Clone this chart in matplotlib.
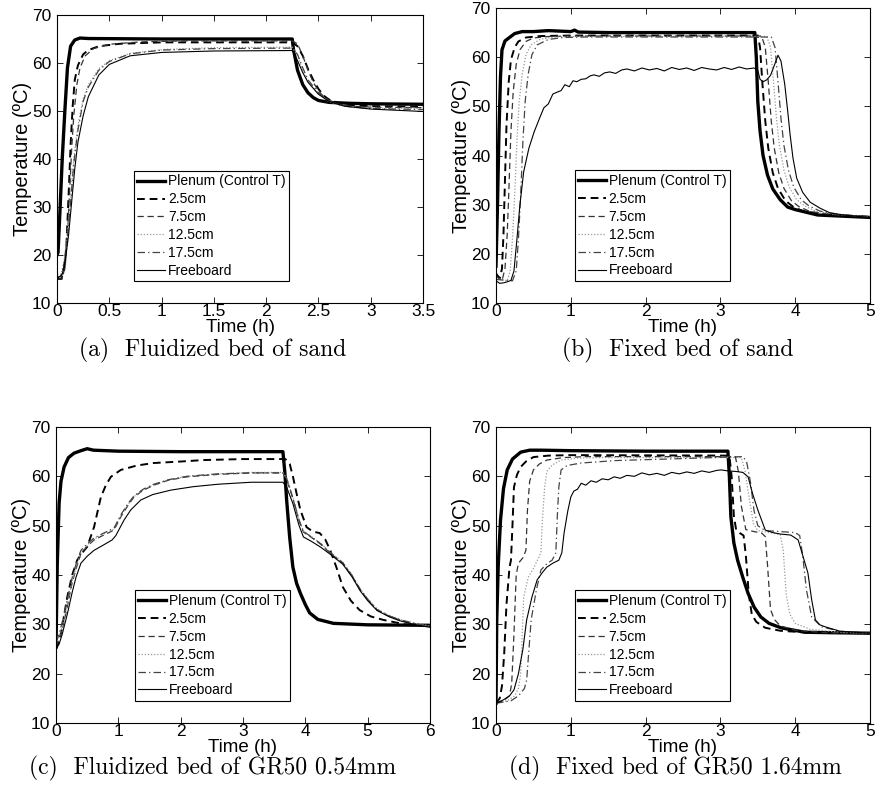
import numpy as np
import matplotlib
matplotlib.use('Agg')
import matplotlib.pyplot as plt
from matplotlib.ticker import FormatStrFormatter

plt.rcParams['font.family'] = ['Liberation Sans', 'DejaVu Sans']

labels = ['Plenum (Control T)', '2.5cm', '7.5cm', '12.5cm', '17.5cm', 'Freeboard']

# ---------------- (a) Fluidized bed of sand ----------------
a_plenum_t = [0.0, 0.01, 0.03, 0.05, 0.075, 0.1, 0.13, 0.17, 0.22, 0.3, 1.0, 2.0, 2.25,
              2.26, 2.3, 2.35, 2.4, 2.45, 2.5, 2.6, 2.8, 3.0, 3.5]
a_plenum_T = [20.0, 20.5, 30.0, 40.0, 50.0, 59.0, 63.5, 64.8, 65.2, 65.1, 65.0, 65.0, 65.0,
              63.0, 58.5, 55.5, 53.8, 52.8, 52.2, 51.8, 51.6, 51.5, 51.4]
a_25_t = [0.0, 0.04, 0.07, 0.09, 0.11, 0.13, 0.15, 0.17, 0.2, 0.25, 0.3, 0.4, 0.6, 1.0, 2.25,
          2.3, 2.35, 2.4, 2.45, 2.5, 2.55, 2.6, 2.7, 2.8, 3.0, 3.5]
a_25_T = [15.0, 15.0, 17.0, 22.0, 32.0, 43.0, 51.0, 56.5, 59.5, 61.8, 62.7, 63.5, 64.0, 64.3, 64.3,
          63.5, 61.5, 58.8, 56.5, 54.6, 53.2, 52.4, 51.6, 51.2, 51.0, 50.9]
a_75_t = [0.0, 0.05, 0.08, 0.1, 0.12, 0.14, 0.16, 0.19, 0.22, 0.27, 0.35, 0.5, 0.8, 1.2, 2.25,
          2.3, 2.35, 2.4, 2.45, 2.5, 2.55, 2.6, 2.7, 2.8, 3.0, 3.5]
a_75_T = [15.0, 15.0, 18.0, 24.0, 33.0, 42.0, 49.0, 55.5, 59.0, 61.5, 63.0, 63.9, 64.4, 64.6, 64.6,
          64.0, 61.5, 58.5, 56.0, 54.2, 53.0, 52.2, 51.4, 51.0, 50.8, 50.7]
a_125_t = [0.0, 0.04, 0.07, 0.1, 0.13, 0.16, 0.2, 0.25, 0.3, 0.4, 0.5, 0.7, 1.0, 1.5, 2.25,
           2.3, 2.35, 2.4, 2.5, 2.6, 2.7, 2.8, 3.0, 3.5]
a_125_T = [16.0, 16.0, 19.0, 25.0, 32.0, 40.0, 47.0, 52.5, 55.5, 58.8, 60.5, 62.0, 62.8, 63.2, 63.3,
           61.5, 58.5, 56.0, 53.5, 52.0, 51.2, 50.8, 50.6, 50.5]
a_175_t = [0.0, 0.04, 0.07, 0.1, 0.13, 0.16, 0.2, 0.25, 0.3, 0.4, 0.5, 0.7, 1.0, 1.5, 2.25,
           2.3, 2.35, 2.4, 2.5, 2.6, 2.7, 2.8, 3.0, 3.5]
a_175_T = [15.5, 15.5, 18.5, 24.0, 31.0, 39.0, 46.0, 52.0, 55.0, 58.5, 60.3, 61.9, 62.7, 63.0, 63.1,
           61.8, 59.0, 56.5, 53.8, 52.2, 51.3, 50.9, 50.5, 50.3]
a_fb_t = [0.0, 0.05, 0.08, 0.11, 0.14, 0.17, 0.2, 0.25, 0.3, 0.4, 0.5, 0.7, 1.0, 1.5, 2.25,
          2.3, 2.35, 2.4, 2.5, 2.6, 2.75, 3.0, 3.5]
a_fb_T = [15.0, 16.0, 19.0, 24.0, 31.0, 38.0, 43.5, 49.0, 53.0, 57.5, 59.7, 61.5, 62.2, 62.5, 62.6,
          60.5, 58.0, 56.0, 53.5, 52.0, 51.0, 50.4, 49.9]

# ---------------- (b) Fixed bed of sand ----------------
b_plenum_t = [0.0, 0.02, 0.04, 0.06, 0.08, 0.12, 0.18, 0.25, 0.35, 0.5, 0.7, 1.0, 1.05, 1.1, 1.5,
              2.0, 2.5, 3.0, 3.46, 3.48, 3.5, 3.53, 3.57, 3.63, 3.7, 3.8, 3.9, 4.0, 4.3, 5.0]
b_plenum_T = [17.5, 30.0, 45.0, 56.0, 61.5, 63.3, 64.0, 64.8, 65.2, 65.2, 65.4, 65.2, 65.5, 65.1, 65.0,
              65.0, 65.0, 65.0, 65.0, 60.0, 51.0, 45.0, 40.0, 36.0, 33.2, 31.0, 29.5, 29.0, 27.9, 27.4]
b_25_t = [0.0, 0.05, 0.08, 0.1, 0.12, 0.14, 0.17, 0.2, 0.25, 0.3, 0.4, 0.6, 1.0, 3.5,
          3.53, 3.56, 3.6, 3.64, 3.7, 3.77, 3.87, 3.97, 4.1, 4.4, 5.0]
b_25_T = [16.0, 15.0, 17.0, 24.0, 35.0, 46.0, 55.0, 59.5, 62.0, 63.2, 64.0, 64.3, 64.4, 64.4,
          62.0, 55.0, 47.0, 41.5, 36.5, 33.3, 30.8, 29.6, 28.7, 28.0, 27.5]
b_75_t = [0.0, 0.08, 0.12, 0.15, 0.17, 0.2, 0.23, 0.27, 0.32, 0.4, 0.5, 0.7, 1.0, 3.55,
          3.6, 3.64, 3.68, 3.72, 3.78, 3.85, 3.95, 4.05, 4.2, 4.5, 5.0]
b_75_T = [15.5, 14.5, 17.0, 24.0, 32.0, 45.0, 53.0, 58.5, 61.5, 63.2, 63.9, 64.2, 64.3, 64.3,
          62.0, 55.0, 47.0, 41.5, 36.5, 33.3, 30.8, 29.6, 28.6, 28.0, 27.5]
b_125_t = [0.0, 0.15, 0.19, 0.22, 0.25, 0.28, 0.31, 0.35, 0.4, 0.47, 0.6, 0.8, 1.1, 3.62,
           3.67, 3.71, 3.75, 3.79, 3.85, 3.92, 4.02, 4.12, 4.27, 4.55, 5.0]
b_125_T = [15.0, 14.5, 16.5, 23.0, 32.0, 43.0, 51.0, 56.5, 60.5, 62.5, 63.7, 64.1, 64.2, 64.2,
           62.0, 55.0, 47.5, 42.0, 37.0, 33.6, 31.0, 29.8, 28.7, 28.0, 27.5]
b_175_t = [0.0, 0.22, 0.27, 0.3, 0.33, 0.36, 0.39, 0.43, 0.48, 0.55, 0.7, 0.9, 1.2, 3.68,
           3.73, 3.77, 3.81, 3.85, 3.91, 3.98, 4.08, 4.18, 4.33, 4.6, 5.0]
b_175_T = [14.8, 14.5, 16.5, 23.0, 32.0, 43.0, 51.0, 56.5, 60.5, 62.5, 63.6, 64.0, 64.1, 64.1,
           62.0, 55.0, 47.5, 42.0, 37.0, 33.6, 31.0, 29.8, 28.7, 28.0, 27.5]
b_fb_t = [0.0, 0.05, 0.1, 0.15, 0.2, 0.24, 0.28, 0.32, 0.37, 0.44, 0.51, 0.58, 0.64, 0.7, 0.76,
          0.82, 0.87, 0.92, 0.98, 1.03, 1.08, 1.14, 1.2, 1.26, 1.31, 1.38, 1.45, 1.52, 1.6, 1.68,
          1.75, 1.85, 1.95, 2.05, 2.15, 2.25, 2.35, 2.45, 2.55, 2.65, 2.75, 2.85, 2.95, 3.05,
          3.15, 3.25, 3.35, 3.45, 3.5, 3.53, 3.57, 3.62, 3.67, 3.72, 3.77, 3.81, 3.86, 3.9,
          3.93, 3.97, 4.02, 4.1, 4.2, 4.33, 4.47, 4.7, 5.0]
b_fb_T = [14.5, 14.0, 14.1, 14.3, 14.6, 16.5, 23.0, 30.0, 36.7, 41.5, 44.8, 47.5, 49.7, 50.5, 52.5,
          52.9, 53.2, 54.4, 54.0, 55.2, 55.0, 55.5, 55.6, 56.2, 56.4, 56.1, 56.8, 57.0, 56.7, 57.4,
          57.6, 57.2, 57.8, 57.4, 57.7, 57.2, 57.9, 57.5, 57.8, 57.3, 57.9, 57.6, 57.4, 57.9,
          57.5, 58.0, 57.6, 57.8, 57.3, 55.5, 55.0, 55.4, 56.3, 58.3, 60.4, 59.2, 54.5, 49.0,
          44.5, 39.5, 35.4, 32.5, 30.5, 29.3, 28.3, 27.8, 27.4]

# ---------------- (c) Fluidized bed of GR50 0.54mm ----------------
c_plenum_t = [0.0, 0.02, 0.05, 0.08, 0.13, 0.2, 0.29, 0.4, 0.5, 0.6, 1.0, 2.0, 3.0, 3.64,
              3.67, 3.7, 3.75, 3.8, 3.86, 3.92, 4.0, 4.07, 4.2, 4.45, 5.0, 6.0]
c_plenum_T = [25.4, 42.0, 54.6, 59.0, 61.9, 63.8, 64.7, 65.2, 65.6, 65.3, 65.1, 65.0, 65.0, 65.0,
              61.0, 55.2, 47.5, 41.6, 38.3, 36.3, 34.0, 32.3, 31.0, 30.2, 29.9, 29.8]
c_25_t = [0.0, 0.05, 0.1, 0.18, 0.26, 0.34, 0.42, 0.5, 0.61, 0.72, 0.8, 0.88, 1.04, 1.3,
          1.57, 2.0, 2.37, 3.0, 3.68, 3.75, 3.8, 3.86, 3.92, 4.02, 4.12, 4.23, 4.32, 4.4, 4.5,
          4.6, 4.73, 4.87, 5.05, 5.25, 5.6, 6.0]
c_25_T = [25.0, 26.5, 29.5, 35.5, 40.0, 43.0, 44.5, 45.7, 49.7, 55.8, 58.2, 59.9, 61.3, 62.2,
          62.7, 63.0, 63.3, 63.5, 63.5, 62.5, 60.0, 56.5, 53.2, 49.7, 48.8, 48.5, 47.2, 45.0, 41.5,
          37.6, 34.8, 32.9, 31.6, 30.9, 30.0, 29.7]
c_75_t = [0.0, 0.05, 0.1, 0.18, 0.26, 0.34, 0.4, 0.5, 0.61, 0.75, 0.93, 1.04, 1.15, 1.25, 1.4,
          1.57, 1.8, 2.1, 2.6, 3.13, 3.64, 3.7, 3.8, 3.9, 3.97, 4.1, 4.25, 4.4, 4.5, 4.6, 4.75,
          4.88, 5.0, 5.15, 5.35, 5.52, 5.8, 6.0]
c_75_T = [25.5, 27.0, 29.0, 33.5, 38.5, 42.0, 44.4, 45.8, 47.1, 48.0, 49.1, 51.8, 54.0, 55.8,
          57.2, 58.2, 59.2, 59.9, 60.4, 60.7, 60.7, 59.5, 55.5, 51.0, 48.7, 47.6, 46.2, 44.4, 43.4,
          42.4, 39.8, 37.0, 35.0, 32.9, 31.6, 30.9, 30.0, 29.6]
c_125_t = c_75_t
c_125_T = [26.0, 27.5, 29.5, 34.0, 38.8, 42.3, 44.6, 46.0, 47.3, 48.2, 49.3, 52.0, 54.2, 55.9,
           57.3, 58.3, 59.3, 60.0, 60.5, 60.8, 60.8, 59.7, 55.8, 51.2, 48.9, 47.8, 46.4, 44.6, 43.6,
           42.6, 40.0, 37.2, 35.2, 33.1, 31.8, 31.0, 30.1, 29.7]
c_175_t = c_75_t
c_175_T = [26.5, 28.0, 30.5, 35.0, 39.5, 43.0, 45.0, 46.3, 47.5, 48.4, 49.5, 52.2, 54.4, 56.0,
           57.4, 58.4, 59.3, 60.0, 60.5, 60.7, 60.7, 59.6, 55.6, 51.1, 48.8, 47.7, 46.3, 44.5, 43.5,
           42.5, 39.9, 37.1, 35.1, 33.0, 31.7, 30.9, 30.0, 29.6]
c_fb_t = [0.0, 0.05, 0.1, 0.18, 0.26, 0.32, 0.4, 0.5, 0.61, 0.75, 0.9, 0.96, 1.09, 1.2, 1.36,
          1.55, 1.84, 2.2, 2.6, 3.13, 3.64, 3.7, 3.8, 3.9, 3.97, 4.1, 4.25, 4.4, 4.5, 4.6, 4.75,
          4.88, 5.0, 5.15, 5.35, 5.52, 5.8, 6.0]
c_fb_T = [25.0, 26.0, 28.0, 32.0, 36.5, 39.5, 42.4, 43.8, 45.0, 46.0, 47.1, 48.0, 51.1, 53.2, 55.2,
          56.3, 57.2, 57.9, 58.4, 58.8, 58.8, 57.8, 54.5, 50.0, 47.7, 46.8, 45.6, 44.2, 43.2,
          42.2, 39.6, 36.8, 34.8, 32.8, 31.5, 30.7, 29.8, 29.4]

# ---------------- (d) Fixed bed of GR50 1.64mm ----------------
d_plenum_t = [0.0, 0.01, 0.03, 0.06, 0.1, 0.15, 0.22, 0.33, 0.45, 0.6, 1.0, 2.0, 3.1, 3.12,
              3.14, 3.18, 3.23, 3.3, 3.37, 3.45, 3.54, 3.65, 3.81, 4.13, 4.5, 5.0]
d_plenum_T = [14.0, 30.9, 42.0, 51.1, 57.5, 61.3, 63.5, 64.9, 65.3, 65.3, 65.2, 65.1, 65.1, 60.0,
              51.8, 46.5, 43.0, 39.5, 36.3, 33.5, 31.5, 30.2, 29.3, 28.4, 28.3, 28.2]
d_25_t = [0.0, 0.05, 0.08, 0.11, 0.14, 0.18, 0.2, 0.22, 0.24, 0.28, 0.33, 0.4, 0.5, 0.7, 1.0,
          3.12, 3.15, 3.18, 3.21, 3.26, 3.31, 3.34, 3.38, 3.42, 3.48, 3.6, 3.8, 4.2, 5.0]
d_25_T = [14.0, 15.0, 17.5, 24.2, 34.0, 41.5, 43.0, 50.0, 57.8, 60.3, 61.9, 63.0, 63.9, 64.2, 64.3,
          64.2, 60.0, 52.0, 49.2, 48.5, 48.0, 44.0, 36.0, 32.0, 30.5, 29.3, 28.7, 28.3, 28.2]
d_75_t = [0.0, 0.1, 0.18, 0.21, 0.24, 0.27, 0.3, 0.36, 0.4, 0.42, 0.45, 0.5, 0.58, 0.68, 0.9, 1.2,
          3.2, 3.24, 3.28, 3.34, 3.45, 3.55, 3.6, 3.63, 3.67, 3.72, 3.8, 4.0, 4.4, 5.0]
d_75_T = [14.0, 14.5, 15.5, 18.0, 28.0, 40.0, 42.4, 43.5, 45.0, 53.0, 59.0, 61.3, 62.5, 63.3, 63.8, 64.0,
          64.0, 61.0, 54.0, 49.2, 48.8, 48.5, 47.8, 42.0, 33.0, 31.0, 29.7, 28.8, 28.3, 28.2]
d_125_t = [0.0, 0.15, 0.25, 0.3, 0.33, 0.37, 0.43, 0.51, 0.57, 0.6, 0.62, 0.65, 0.68, 0.75, 0.87,
           1.1, 1.4, 3.28, 3.33, 3.38, 3.44, 3.5, 3.65, 3.8, 3.84, 3.88, 3.93, 4.0, 4.2, 4.6, 5.0]
d_125_T = [14.0, 14.5, 15.5, 17.0, 20.0, 35.5, 39.5, 41.6, 43.5, 44.5, 51.0, 57.8, 61.0, 62.3, 63.3,
           63.7, 63.8, 63.8, 61.0, 56.0, 50.5, 49.0, 48.6, 48.2, 45.0, 36.0, 32.0, 30.2, 29.0, 28.4, 28.2]
d_175_t = [0.0, 0.2, 0.3, 0.38, 0.41, 0.47, 0.54, 0.6, 0.68, 0.75, 0.8, 0.82, 0.84, 0.87, 0.95,
           1.14, 1.6, 2.5, 3.3, 3.35, 3.4, 3.45, 3.5, 3.6, 3.8, 4.0, 4.06, 4.1, 4.15, 4.22, 4.35,
           4.6, 5.0]
d_175_T = [14.0, 14.5, 15.5, 17.0, 18.7, 30.9, 37.0, 41.0, 42.3, 43.0, 44.5, 52.0, 57.8, 61.3, 62.2,
           62.7, 63.2, 63.6, 64.0, 63.0, 59.0, 53.0, 50.0, 49.0, 48.8, 48.6, 48.0, 44.0, 37.0,
           31.5, 29.5, 28.6, 28.2]
d_fb_t = [0.0, 0.1, 0.18, 0.24, 0.3, 0.36, 0.41, 0.48, 0.55, 0.62, 0.68, 0.76, 0.84, 0.88, 0.91,
          0.96, 1.0, 1.04, 1.09, 1.14, 1.2, 1.27, 1.34, 1.42, 1.5, 1.58, 1.66, 1.75, 1.85, 1.95,
          2.05, 2.15, 2.25, 2.35, 2.45, 2.55, 2.65, 2.75, 2.85, 2.95, 3.01, 3.1, 3.2, 3.3, 3.37,
          3.43, 3.5, 3.6, 3.7, 3.8, 3.94, 4.04, 4.1, 4.17, 4.22, 4.27, 4.33, 4.4, 4.6, 5.0]
d_fb_T = [14.0, 14.7, 15.5, 16.7, 20.0, 25.0, 30.9, 35.5, 39.0, 40.5, 41.6, 42.4, 43.0, 44.5, 48.5,
          53.0, 55.8, 57.0, 57.4, 58.6, 58.2, 59.1, 58.8, 59.5, 59.3, 59.9, 59.6, 60.2, 60.0, 60.7,
          60.3, 60.6, 60.2, 60.8, 60.5, 60.9, 60.6, 61.1, 60.8, 61.2, 61.3, 61.1, 61.0, 60.8, 59.9,
          56.5, 53.2, 49.1, 48.6, 48.3, 48.1, 47.1, 44.0, 40.4, 35.0, 30.9, 29.9, 29.5, 28.6, 28.2]

panels = [
    dict(rect=[57, 15, 423, 303], xmax=3.5, xticks=np.arange(0, 3.51, 0.5),
         series=[(a_plenum_t, a_plenum_T), (a_25_t, a_25_T), (a_75_t, a_75_T),
                 (a_125_t, a_125_T), (a_175_t, a_175_T), (a_fb_t, a_fb_T)],
         caption='(a)  Fluidized bed of sand', cap_xy=(213, 350)),
    dict(rect=[496, 8, 870, 303], xmax=5, xticks=np.arange(0, 6, 1),
         series=[(b_plenum_t, b_plenum_T), (b_25_t, b_25_T), (b_75_t, b_75_T),
                 (b_125_t, b_125_T), (b_175_t, b_175_T), (b_fb_t, b_fb_T)],
         caption='(b)  Fixed bed of sand', cap_xy=(678, 350)),
    dict(rect=[56, 427, 430, 723], xmax=6, xticks=np.arange(0, 7, 1),
         series=[(c_plenum_t, c_plenum_T), (c_25_t, c_25_T), (c_75_t, c_75_T),
                 (c_125_t, c_125_T), (c_175_t, c_175_T), (c_fb_t, c_fb_T)],
         caption='(c)  Fluidized bed of GR50 0.54mm', cap_xy=(213, 768)),
    dict(rect=[496, 427, 870, 723], xmax=5, xticks=np.arange(0, 6, 1),
         series=[(d_plenum_t, d_plenum_T), (d_25_t, d_25_T), (d_75_t, d_75_T),
                 (d_125_t, d_125_T), (d_175_t, d_175_T), (d_fb_t, d_fb_T)],
         caption='(d)  Fixed bed of GR50 1.64mm', cap_xy=(675, 768)),
]

styles = [
    dict(color='black', lw=2.4, ls='-'),
    dict(color='black', lw=1.4, ls=(0, (4, 2.5))),
    dict(color='#333333', lw=0.9, ls=(0, (5, 3))),
    dict(color='#999999', lw=0.9, ls=(0, (1, 1.5))),
    dict(color='#444444', lw=0.9, ls=(0, (6, 2.5, 1, 2.5))),
    dict(color='black', lw=0.8, ls='-'),
]

W, H = 876, 811
fig = plt.figure(figsize=(W / 100, H / 100), dpi=100)

for p in panels:
    x0, y0, x1, y1 = p['rect']
    ax = fig.add_axes([x0 / W, 1 - y1 / H, (x1 - x0) / W, (y1 - y0) / H])
    for (t, T), lab, st in zip(p['series'], labels, styles):
        ax.plot(t, T, label=lab, **st)
    ax.set_xlim(0, p['xmax'])
    ax.set_ylim(10, 70)
    ax.set_xticks(p['xticks'])
    ax.set_yticks(np.arange(10, 71, 10))
    ax.xaxis.set_major_formatter(FormatStrFormatter('%g'))
    ax.tick_params(direction='in', top=True, right=True, labelsize=12.5, length=4, width=0.6)
    ax.tick_params(axis='x', pad=1)
    ax.tick_params(axis='y', pad=4)
    for s in ax.spines.values():
        s.set_linewidth(0.8)
    ax.set_xlabel('Time (h)', fontsize=13.5, labelpad=0)
    ax.set_ylabel('Temperature (ºC)', fontsize=14.5, labelpad=0)
    leg = ax.legend(loc='lower left', bbox_to_anchor=(0.21, 0.075), borderaxespad=0,
                    fontsize=10, fancybox=False, framealpha=1, edgecolor='black',
                    handlelength=2.0, handletextpad=0.2, labelspacing=0.28,
                    borderpad=0.25)
    leg.get_frame().set_linewidth(0.8)
    cx, cy = p['cap_xy']
    fig.text(cx / W, 1 - cy / H, p['caption'], ha='center', va='center',
             fontsize=17, family='cmr10')

fig.savefig('out.png', dpi=100)
